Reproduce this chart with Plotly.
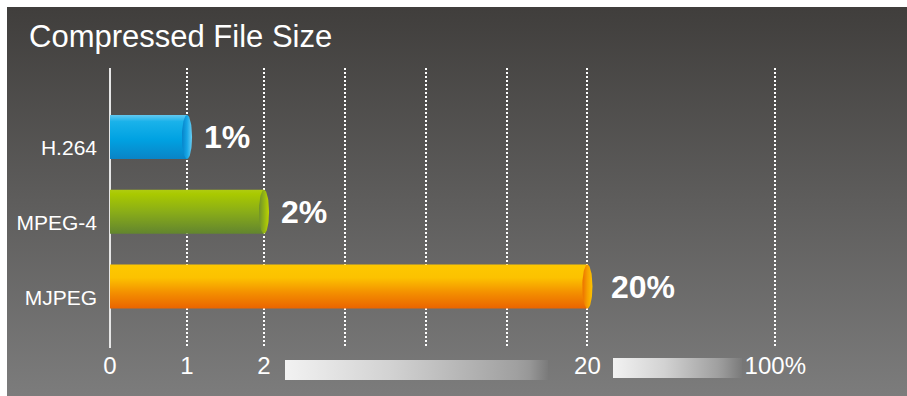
import numpy as np
import plotly.graph_objects as go

# ---------------- data ----------------
TITLE = "Compressed File Size"
CODECS = ["H.264", "MPEG-4", "MJPEG"]
SIZES = [1, 2, 20]                      # compressed size, % of original
VALUE_LABELS = ["1%", "2%", "20%"]
TICK_VALUES = [0, 1, 2, 20, 100]
TICK_LABELS = ["0", "1", "2", "20", "100%"]

# ---------------- broken axis scale (value -> slot) ----------------
SCALE_SLOTS = [0, 1, 2, 6.2, 8.64]
EXTRA_GRID = 3                          # unlabeled gridlines between 2 and 20


def to_slot(v):
    return float(np.interp(v, TICK_VALUES, SCALE_SLOTS))


W, H = 907, 396
FONT = "Liberation Sans, Arial, Helvetica, sans-serif"
LABEL_SHIFTS = [15, 15, 22]

# colours: (body gradient bottom->top, cap gradient left->right)
BODY_COLORS = [
    [[0, "#0a84c6"], [0.45, "#00a2e2"], [0.85, "#1ab2ea"], [1, "#62c8f0"]],
    [[0, "#62852f"], [0.5, "#8aad18"], [0.9, "#a9c900"], [1, "#b0cc10"]],
    [[0, "#ea6400"], [0.35, "#f38e00"], [0.7, "#fcc200"], [1, "#fdc800"]],
]
CAP_COLORS = [
    [[0, "#0682c8"], [0.5, "#16a6e6"], [1, "#6acdf2"]],
    [[0, "#6e8f2c"], [0.5, "#93b414"], [1, "#bed400"]],
    [[0, "#ec7000"], [0.5, "#f6a000"], [1, "#fdc400"]],
]

fig = go.Figure()

# ---------- background subplot (pixel coordinates) ----------
bx0, by0 = 7, 7
fig.add_trace(go.Scatter(
    x=[bx0, W, W, bx0, bx0], y=[by0, by0, H, H, by0],
    mode="lines", line=dict(width=0), fill="toself",
    fillgradient=dict(type="vertical", start=by0, stop=H,
                      colorscale=[[0, "#403e3c"], [0.5, "#5e5d5c"], [1, "#7c7c7c"]]),
    xaxis="x", yaxis="y", hoverinfo="skip", showlegend=False))

# axis-break indicators
for (x0, x1, y0, y1, fade) in [(285, 548, 360, 380, 0.93), (613, 742, 358, 378, 0.86)]:
    fig.add_trace(go.Scatter(
        x=[x0, x1, x1, x0, x0], y=[y0, y0, y1, y1, y0],
        mode="lines", line=dict(width=0), fill="toself",
        fillgradient=dict(type="horizontal", start=x0, stop=x1,
                          colorscale=[[0, "#f2f2f2"], [0.4, "#d2d2d2"],
                                      [fade - 0.05, "#a0a0a0"], [fade, "#979797"], [1, "#7a7a7a"]]),
        xaxis="x", yaxis="y", hoverinfo="skip", showlegend=False))

# ---------- main subplot ----------
n = len(CODECS)
ypos = [n - 1 - i for i in range(n)]    # H.264 on top
half_h = 0.294                          # half bar thickness (y units)
cap_rx = 0.066                          # cap half-width (x units)

for i, (name, val) in enumerate(zip(CODECS, SIZES)):
    xs = to_slot(val)
    yc = ypos[i]
    fig.add_trace(go.Scatter(
        x=[0, xs, xs, 0, 0],
        y=[yc - half_h, yc - half_h, yc + half_h, yc + half_h, yc - half_h],
        mode="lines", line=dict(width=0), fill="toself",
        fillgradient=dict(type="vertical", start=yc - half_h, stop=yc + half_h,
                          colorscale=BODY_COLORS[i]),
        xaxis="x2", yaxis="y2", hoverinfo="skip", showlegend=False))
    t = np.linspace(0, 2 * np.pi, 80)
    fig.add_trace(go.Scatter(
        x=xs + cap_rx * np.cos(t), y=yc + half_h * np.sin(t),
        mode="lines", line=dict(width=0), fill="toself",
        fillgradient=dict(type="horizontal", start=xs - cap_rx, stop=xs + cap_rx,
                          colorscale=CAP_COLORS[i]),
        xaxis="x2", yaxis="y2", hoverinfo="skip", showlegend=False))
    fig.add_annotation(
        x=xs, y=yc, xref="x2", yref="y2", text=VALUE_LABELS[i],
        showarrow=False, xanchor="left", yanchor="middle", xshift=LABEL_SHIFTS[i],
        font=dict(family=FONT, size=32, color="white", weight="bold"))

# tick positions
lab_slots = [to_slot(v) for v in TICK_VALUES]
grid_slots = [SCALE_SLOTS[2] + k * (SCALE_SLOTS[3] - SCALE_SLOTS[2]) / (EXTRA_GRID + 1)
              for k in range(1, EXTRA_GRID + 1)]
tickvals = lab_slots[:3] + grid_slots + lab_slots[3:]
ticktext = TICK_LABELS[:3] + [""] * EXTRA_GRID + TICK_LABELS[3:]

PL, PR, PT, PB = 100, 880, 68, 348
unit = 77.0
x_lo = -(110 - PL) / unit
x_hi = x_lo + (PR - PL) / unit
vunit = 74.75
yc_bottom = 286.5
y_lo = -(PB - yc_bottom) / vunit
y_hi = (yc_bottom - PT) / vunit

fig.update_layout(
    width=W, height=H,
    margin=dict(l=0, r=0, t=0, b=0, pad=0),
    paper_bgcolor="white", plot_bgcolor="rgba(0,0,0,0)",
    showlegend=False, hovermode=False,
    xaxis=dict(domain=[0, 1], range=[0, W], visible=False, fixedrange=True),
    yaxis=dict(domain=[0, 1], range=[H, 0], visible=False, fixedrange=True),
    xaxis2=dict(domain=[PL / W, PR / W], range=[x_lo, x_hi], anchor="y2",
                tickmode="array", tickvals=tickvals, ticktext=ticktext,
                showgrid=True, gridcolor="white", gridwidth=2, griddash="2px,2px",
                zeroline=True, zerolinecolor="#e6e6e6", zerolinewidth=2,
                showline=False, ticks="", ticklabelstandoff=1,
                tickfont=dict(family=FONT, size=24, color="white"), fixedrange=True),
    yaxis2=dict(domain=[1 - PB / H, 1 - PT / H], range=[y_lo, y_hi], anchor="x2",
                tickmode="array", tickvals=ypos, ticktext=CODECS,
                showgrid=False, zeroline=False, showline=False, ticks="",
                ticklabelshift=11, ticklabelstandoff=2,
                tickfont=dict(family=FONT, size=21, color="white"), fixedrange=True),
)

fig.add_annotation(
    x=27 / W, y=1 - 36 / H, xref="paper", yref="paper", text=TITLE,
    showarrow=False, xanchor="left", yanchor="middle",
    font=dict(family=FONT, size=31, color="white"))

fig.write_html("out.html", config={"displayModeBar": False},
               post_script="document.body.style.margin='0';")
